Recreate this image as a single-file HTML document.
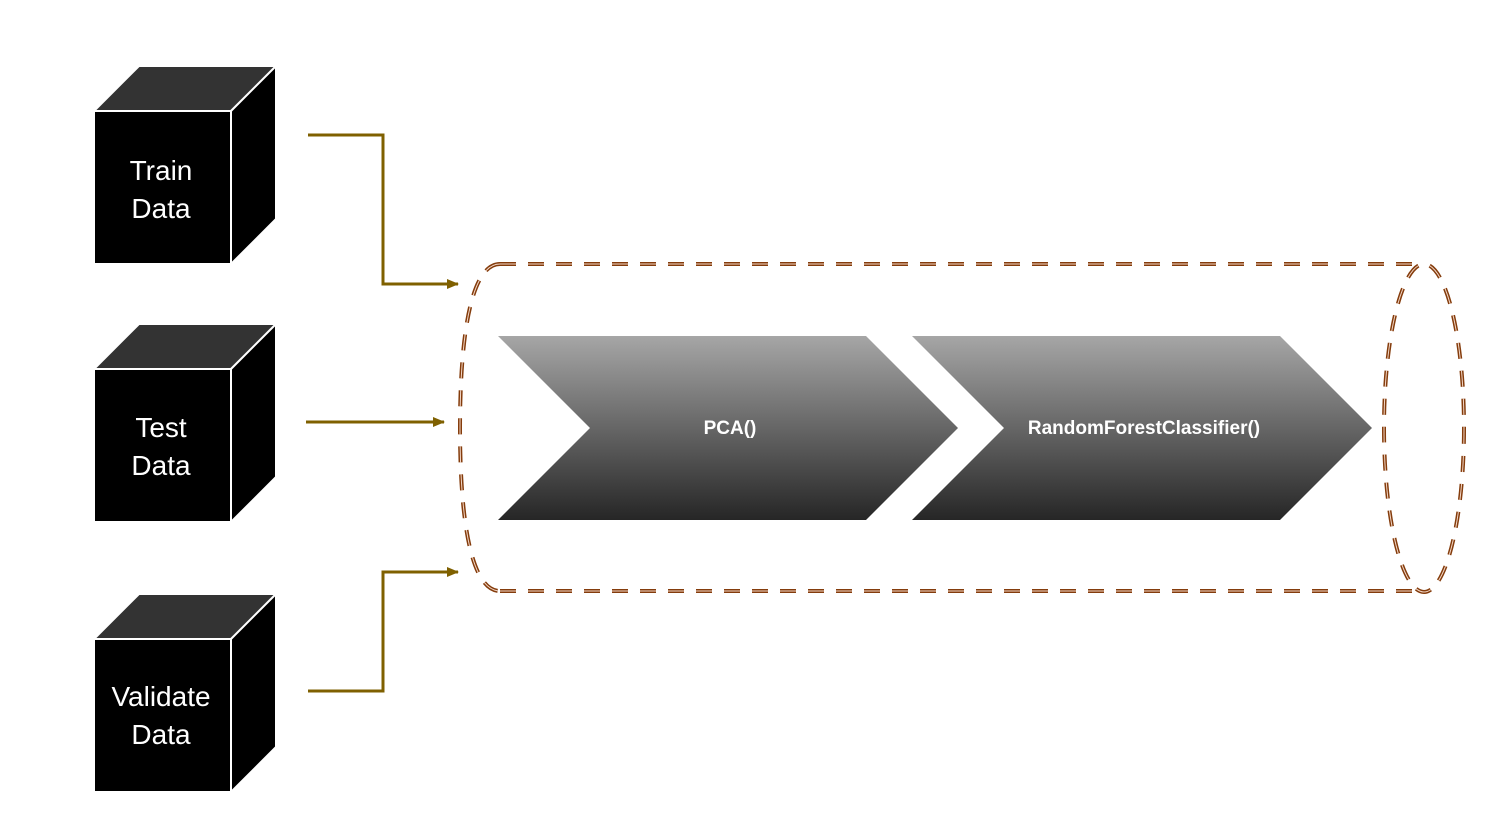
<!DOCTYPE html>
<html><head><style>body{margin:0;background:#fff}svg{display:block}</style></head><body>
<svg width="1512" height="834" viewBox="0 0 1512 834" xmlns="http://www.w3.org/2000/svg" font-family="Liberation Sans, sans-serif">
<defs>
<linearGradient id="g" x1="0" y1="0" x2="0" y2="1"><stop offset="0" stop-color="#a6a6a6"/><stop offset="1" stop-color="#262626"/></linearGradient>
<marker id="a" markerWidth="12" markerHeight="10" refX="11" refY="5" orient="auto" markerUnits="userSpaceOnUse"><path d="M0,0 L12,5 L0,10 Z" fill="#7f6000"/></marker>
</defs>
<g stroke="#fff" stroke-width="2">
<g><polygon points="94,111 139,66 276,66 231,111" fill="#333"/><polygon points="231,111 276,66 276,219 231,264" fill="#000"/><rect x="94" y="111" width="137" height="153" fill="#000"/></g>
<g><polygon points="94,369 139,324 276,324 231,369" fill="#333"/><polygon points="231,369 276,324 276,477 231,522" fill="#000"/><rect x="94" y="369" width="137" height="153" fill="#000"/></g>
<g><polygon points="94,639 139,594 276,594 231,639" fill="#333"/><polygon points="231,639 276,594 276,747 231,792" fill="#000"/><rect x="94" y="639" width="137" height="153" fill="#000"/></g>
</g>
<g fill="#fff" font-size="28" text-anchor="middle">
<text x="161" y="180">Train</text><text x="161" y="218">Data</text>
<text x="161" y="437">Test</text><text x="161" y="475">Data</text>
<text x="161" y="706">Validate</text><text x="161" y="744">Data</text>
</g>
<g stroke="#7f6000" stroke-width="3" fill="none" marker-end="url(#a)">
<polyline points="308,135 383,135 383,284 458,284"/>
<polyline points="306,422 444,422"/>
<polyline points="308,691 383,691 383,572 458,572"/>
</g>
<polygon points="498,336 866,336 958,428 866,520 498,520 590,428" fill="url(#g)"/>
<polygon points="912,336 1280,336 1372,428 1280,520 912,520 1004,428" fill="url(#g)"/>
<g fill="#fff" font-size="19" font-weight="bold" text-anchor="middle">
<text x="730" y="434">PCA()</text>
<text x="1144" y="434">RandomForestClassifier()</text>
</g>
<g fill="none" stroke-dasharray="16,12">
<g stroke="#843c0c" stroke-width="4">
<path d="M500,264 L1424,264 M500,591 L1424,591 M500,264 C470,264 460,340 460,428 C460,516 470,591 500,591"/>
<ellipse cx="1424" cy="428" rx="40" ry="164"/>
</g>
<g stroke="#f4d8c8" stroke-width="1">
<path d="M500,264 L1424,264 M500,591 L1424,591 M500,264 C470,264 460,340 460,428 C460,516 470,591 500,591"/>
<ellipse cx="1424" cy="428" rx="40" ry="164"/>
</g>
</g>
</svg>
</body></html>
